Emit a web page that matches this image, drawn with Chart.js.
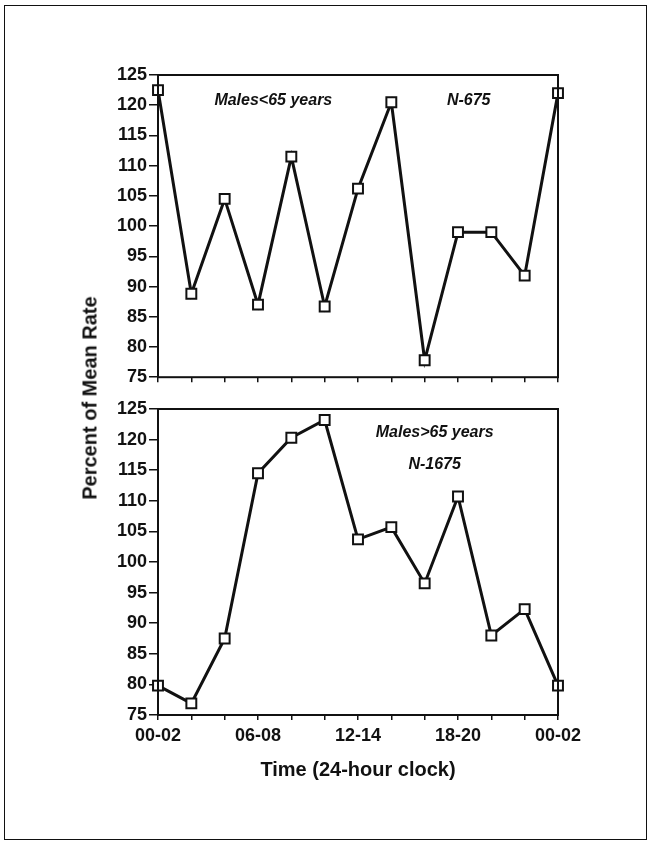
<!DOCTYPE html>
<html>
<head>
<meta charset="utf-8">
<script src="https://cdn.jsdelivr.net/npm/chart.js@4"></script>
<style>
  body { margin: 0; background: #fff; }
  #page { position: relative; width: 652px; height: 845px; overflow: hidden; font-family: 'Liberation Sans', Arial, sans-serif; }
  #frame { position: absolute; left: 4px; top: 5px; width: 641px; height: 833px; border: 1.5px solid #111; }
  .box { position: absolute; left: 0; width: 652px; }
  #topBox { top: 60px; height: 330px; }
  #botBox { top: 395px; height: 400px; }
  #yTitle {
    position: absolute; left: 90px; top: 398px; white-space: nowrap;
    transform: translate(-50%, -50%) rotate(-90deg);
    font-weight: bold; font-size: 20px; color: #111;
  }
</style>
</head>
<body>
<div id="page">
  <div id="frame"></div>
  <div class="box" id="topBox"><canvas id="topChart"></canvas></div>
  <div class="box" id="botBox"><canvas id="botChart"></canvas></div>
  <div id="yTitle">Percent of Mean Rate</div>
</div>
<script>
// Time slots (2-hour bins), ticks labelled every 3rd slot
const timeSlots = ['00-02', '02-04', '04-06', '06-08', '08-10', '10-12', '12-14', '14-16', '16-18', '18-20', '20-22', '22-24', '00-02'];
const labelledSlots = [0, 3, 6, 9, 12];

// Percent of mean rate
const malesUnder65 = [122.5, 88.8, 104.5, 87, 111.5, 86.7, 106.2, 120.5, 77.8, 99, 99, 91.8, 122];
const malesOver65 = [79.8, 76.9, 87.5, 114.5, 120.3, 123.2, 103.7, 105.7, 96.5, 110.7, 88, 92.3, 79.8];

const yMin = 75, yMax = 125, yStep = 5;

const INK = '#111';
Chart.defaults.font.family = "'Liberation Sans', Arial, sans-serif";
Chart.defaults.color = INK;

// frame around the plot area + italic annotations
const panelPlugin = {
  id: 'panel',
  afterDraw(chart, args, opts) {
    const { ctx, chartArea: a, scales } = chart;
    ctx.save();
    ctx.strokeStyle = INK;
    ctx.lineWidth = 2;
    ctx.strokeRect(a.left, a.top, a.right - a.left, a.bottom - a.top);
    ctx.font = "italic bold 16px 'Liberation Sans', Arial, sans-serif";
    ctx.fillStyle = INK;
    ctx.textAlign = 'center';
    ctx.textBaseline = 'middle';
    (opts.notes || []).forEach(n => {
      ctx.fillText(n.text, scales.x.getPixelForValue(n.x), scales.y.getPixelForValue(n.y));
    });
    ctx.restore();
  }
};

function makeChart(id, values, showX, padTop, xHeight, notes) {
  return new Chart(document.getElementById(id), {
    type: 'line',
    data: {
      labels: timeSlots,
      datasets: [{
        data: values,
        borderColor: INK,
        borderWidth: 3,
        tension: 0,
        pointStyle: 'rect',
        pointRadius: 7,
        pointBorderWidth: 2,
        pointBackgroundColor: '#fff',
        pointBorderColor: INK,
        clip: false
      }]
    },
    options: {
      responsive: true,
      maintainAspectRatio: false,
      animation: false,
      layout: { padding: { left: 0, right: 94, top: padTop, bottom: 0 } },
      plugins: {
        legend: { display: false },
        tooltip: { enabled: false },
        panel: { notes: notes }
      },
      scales: {
        x: {
          offset: false,
          border: { display: false },
          grid: { drawOnChartArea: false, drawTicks: true, tickLength: 5, color: INK, lineWidth: 1.5 },
          ticks: {
            display: showX,
            autoSkip: false,
            maxRotation: 0,
            padding: 5,
            font: { size: 18, weight: 'bold' },
            callback: (v, i) => labelledSlots.includes(i) ? timeSlots[i] : ''
          },
          title: {
            display: showX,
            text: 'Time (24-hour clock)',
            font: { size: 20, weight: 'bold' },
            padding: { top: 0, bottom: 13 }
          },
          afterFit: s => { s.height = xHeight; }
        },
        y: {
          min: yMin,
          max: yMax,
          border: { display: false },
          grid: { drawOnChartArea: false, drawTicks: true, tickLength: 9, color: INK, lineWidth: 1.5 },
          ticks: { stepSize: yStep, padding: 2, font: { size: 18, weight: 'bold' } },
          afterFit: s => { s.width = 158; }
        }
      }
    },
    plugins: [panelPlugin]
  });
}

makeChart('topChart', malesUnder65, false, 15, 12, [
  { text: 'Males<65 years', x: 3.46, y: 120.7 },
  { text: 'N-675', x: 9.32, y: 120.7 }
]);
makeChart('botChart', malesOver65, true, 14, 80, [
  { text: 'Males>65 years', x: 8.3, y: 121.1 },
  { text: 'N-1675', x: 8.3, y: 115.9 }
]);
</script>
</body>
</html>
